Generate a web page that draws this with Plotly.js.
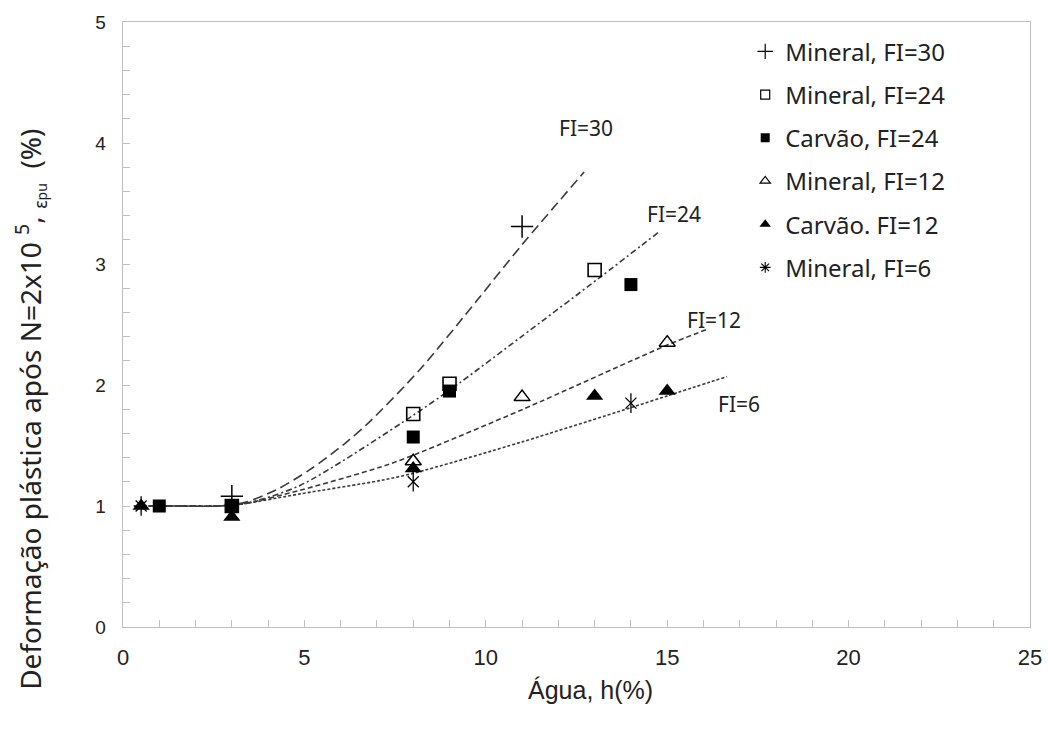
<!DOCTYPE html>
<html>
<head>
<meta charset="utf-8">
<script src="https://cdn.plot.ly/plotly-3.0.1.min.js"></script>
<style>html,body{margin:0;padding:0;background:#fff;}#chart{width:1048px;height:731px;}</style>
</head>
<body>
<div id="chart"></div>
<script>
// ---- measured points ----
var minFI30_x = [3, 11];
var minFI30_y = [1.08, 3.31];
var minFI24_x = [3, 8, 9, 13];
var minFI24_y = [1.0, 1.76, 2.01, 2.95];
var carFI24_x = [1, 3, 8, 9, 14];
var carFI24_y = [1.0, 1.0, 1.57, 1.95, 2.83];
var minFI12_x = [8, 11, 15];
var minFI12_y = [1.37, 1.90, 2.35];
var carFI12_x = [0.5, 3, 8, 13, 15];
var carFI12_y = [1.0, 0.91, 1.31, 1.91, 1.95];
var minFI6_x = [0.5, 8, 14];
var minFI6_y = [1.0, 1.20, 1.85];

// ---- trend curves ----
var curve30_x = [0.3, 1.5, 2.6, 3.36, 4.2, 5.15, 6.17, 6.81, 8.19, 9.76, 11.0, 12.71];
var curve30_y = [1.0, 1.0, 1.0, 1.03, 1.13, 1.30, 1.53, 1.70, 2.13, 2.70, 3.16, 3.76];
var curve24_x = [0.3, 1.5, 2.6, 3.36, 4.88, 8.0, 9.29, 10.94, 13.15, 14.75];
var curve24_y = [1.0, 1.0, 1.0, 1.02, 1.17, 1.75, 2.02, 2.39, 2.89, 3.26];
var curve12_x = [0.3, 1.5, 2.6, 3.36, 4.88, 7.08, 8.0, 11.03, 15.0, 16.1];
var curve12_y = [1.0, 1.0, 1.0, 1.02, 1.13, 1.32, 1.42, 1.80, 2.33, 2.46];
var curve6_x = [0.3, 1.5, 2.6, 3.36, 4.88, 7.08, 8.0, 11.0, 13.97, 15.0, 16.65];
var curve6_y = [1.0, 1.0, 1.0, 1.02, 1.10, 1.21, 1.27, 1.53, 1.81, 1.91, 2.07];

var curveLabels = ['FI=30', 'FI=24', 'FI=12', 'FI=6'];
var curveLabel_x = [11.95, 14.4, 15.5, 16.35];
var curveLabel_y = [4.12, 3.41, 2.54, 1.84];

var legendNames = ['Mineral, FI=30', 'Mineral, FI=24', 'Carvão, FI=24', 'Mineral, FI=12', 'Carvão. FI=12', 'Mineral, FI=6'];

var xTicks = [0, 5, 10, 15, 20, 25];
var yTicks = [0, 1, 2, 3, 4, 5];

var xTitle = 'Água, h(%)';
var yTitle = 'Deformação plástica após N=2x10&nbsp;<sup>5</sup>, <sub><span style="font-size:18px">ε</span><span style="font-size:14px">pu</span></sub>&nbsp;&nbsp;(%)';

var lineCol = '#3a3a3a';
function curve(x, y, dash) {
  return {x: x, y: y, mode: 'lines', type: 'scatter', showlegend: false, hoverinfo: 'skip',
          line: {color: lineCol, width: 1.6, dash: dash, shape: 'spline', smoothing: 0.8}};
}
function pts(x, y, sym, size, lw) {
  return {x: x, y: y, mode: 'markers', type: 'scatter', showlegend: false,
          marker: {symbol: sym, size: size, color: '#000', line: {color: '#000', width: lw}}};
}
function leg(name, sym, size, lw, i) {
  return {x: [null], y: [null], mode: 'markers', type: 'scatter', name: name, legendgroup: 'g' + i,
          marker: {symbol: sym, size: size, color: '#000', line: {color: '#000', width: lw}}};
}

var data = [
  curve(curve30_x, curve30_y, '10px,5px'),
  curve(curve24_x, curve24_y, '6px,3px,2px,3px'),
  curve(curve12_x, curve12_y, '5px,3px'),
  curve(curve6_x, curve6_y, '3px,2px'),
  pts(minFI6_x, minFI6_y, 'x-thin-open', 11, 1.3),
  pts(minFI6_x, minFI6_y, 'line-ns-open', 14, 1.3),
  pts(carFI12_x, carFI12_y, 'triangle-up', 15, 0),
  pts(minFI12_x, minFI12_y, 'triangle-up-open', 14, 1.5),
  pts(carFI24_x, carFI24_y, 'square', 13, 0),
  pts(minFI24_x, minFI24_y, 'square-open', 13, 1.6),
  pts(minFI30_x, minFI30_y, 'cross-thin-open', 16, 1.5),
  leg(legendNames[0], 'cross-thin-open', 11, 1.2, 0),
  leg(legendNames[1], 'square-open', 9, 1.2, 1),
  leg(legendNames[2], 'square', 9, 0, 2),
  leg(legendNames[3], 'triangle-up-open', 9, 1.2, 3),
  leg(legendNames[4], 'triangle-up', 10, 0, 4),
  leg(legendNames[5], 'asterisk-open', 9, 1.1, 5)
];

var annotations = curveLabels.map(function (t, i) {
  return {x: curveLabel_x[i], y: curveLabel_y[i], xref: 'x', yref: 'y', text: t, showarrow: false,
          xanchor: 'left', yanchor: 'middle', font: {family: 'Noto Sans, Open Sans, sans-serif', size: 21, color: '#222'}};
});
annotations.push({xref: 'paper', yref: 'paper', x: 0.515, y: -0.104, text: xTitle, showarrow: false,
  xanchor: 'center', yanchor: 'middle',
  font: {family: 'Liberation Sans Narrow, Liberation Sans, Arial, sans-serif', size: 25, color: '#222'}});
annotations.push({xref: 'paper', yref: 'paper', x: -0.1025, y: 0.359, text: yTitle, showarrow: false,
  textangle: -90, xanchor: 'center', yanchor: 'middle',
  font: {family: 'Noto Sans, Open Sans, sans-serif', size: 28, color: '#222'}});

var frameCol = '#c0c0c0';
var layout = {
  width: 1048, height: 731,
  margin: {l: 123, r: 18, t: 22, b: 104},
  paper_bgcolor: '#fff', plot_bgcolor: '#fff',
  showlegend: true,
  legend: {x: 0.686, y: 0.988, xanchor: 'left', yanchor: 'top', traceorder: 'grouped', tracegroupgap: 9,
           bgcolor: 'rgba(0,0,0,0)', borderwidth: 0,
           font: {family: 'Noto Sans, Open Sans, sans-serif', size: 24, color: '#222'}},
  xaxis: {range: [0, 25], tickvals: xTicks, ticktext: xTicks.map(String),
          showgrid: false, zeroline: false, showline: true, linecolor: frameCol, linewidth: 1.3, mirror: true,
          ticks: 'inside', ticklen: 7, tickcolor: frameCol, tickwidth: 1,
          minor: {dtick: 1, ticks: 'inside', ticklen: 7, tickcolor: frameCol, tickwidth: 1},
          tickfont: {family: 'Liberation Sans Narrow, Liberation Sans, Arial, sans-serif', size: 22, color: '#222'},
          ticklabelstandoff: 10},
  yaxis: {range: [0, 5], tickvals: yTicks, ticktext: yTicks.map(String),
          showgrid: false, zeroline: false, showline: true, linecolor: frameCol, linewidth: 1.3, mirror: true,
          ticks: 'inside', ticklen: 7, tickcolor: frameCol, tickwidth: 1,
          minor: {dtick: 0.2, ticks: 'inside', ticklen: 7, tickcolor: frameCol, tickwidth: 1},
          tickfont: {family: 'Liberation Sans, Arial, sans-serif', size: 19, color: '#222'},
          ticklabelstandoff: 12},
  annotations: annotations
};

Plotly.newPlot('chart', data, layout, {displayModeBar: false, staticPlot: true});
</script>
</body>
</html>
